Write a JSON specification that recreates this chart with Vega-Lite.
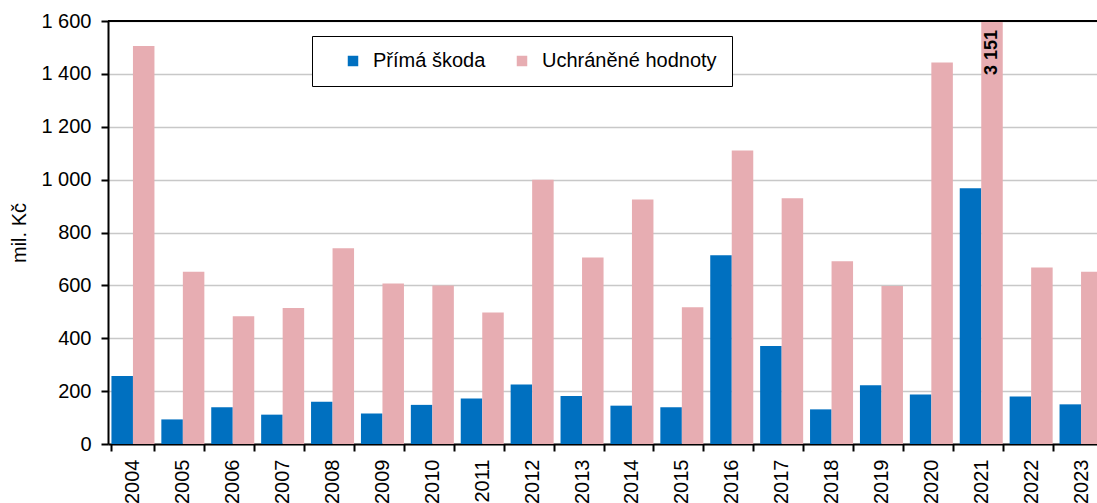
{
  "$schema": "https://vega.github.io/schema/vega-lite/v6.json",
  "autosize": {"type": "none"},
  "padding": {"left": 108, "top": 21, "right": -9, "bottom": 59},
  "width": 998,
  "height": 423,
  "config": {
    "font": "Liberation Sans",
    "view": {"stroke": null}
  },
  "data": {
    "values": [
      {"year": "2004", "series": "Přímá škoda", "value": 257},
      {"year": "2004", "series": "Uchráněné hodnoty", "value": 1505},
      {"year": "2005", "series": "Přímá škoda", "value": 93},
      {"year": "2005", "series": "Uchráněné hodnoty", "value": 652},
      {"year": "2006", "series": "Přímá škoda", "value": 139},
      {"year": "2006", "series": "Uchráněné hodnoty", "value": 483},
      {"year": "2007", "series": "Přímá škoda", "value": 111},
      {"year": "2007", "series": "Uchráněné hodnoty", "value": 514},
      {"year": "2008", "series": "Přímá škoda", "value": 160},
      {"year": "2008", "series": "Uchráněné hodnoty", "value": 740},
      {"year": "2009", "series": "Přímá škoda", "value": 115},
      {"year": "2009", "series": "Uchráněné hodnoty", "value": 607},
      {"year": "2010", "series": "Přímá škoda", "value": 148},
      {"year": "2010", "series": "Uchráněné hodnoty", "value": 600},
      {"year": "2011", "series": "Přímá škoda", "value": 172},
      {"year": "2011", "series": "Uchráněné hodnoty", "value": 497},
      {"year": "2012", "series": "Přímá škoda", "value": 225},
      {"year": "2012", "series": "Uchráněné hodnoty", "value": 1000},
      {"year": "2013", "series": "Přímá škoda", "value": 182},
      {"year": "2013", "series": "Uchráněné hodnoty", "value": 705},
      {"year": "2014", "series": "Přímá škoda", "value": 145},
      {"year": "2014", "series": "Uchráněné hodnoty", "value": 925},
      {"year": "2015", "series": "Přímá škoda", "value": 139},
      {"year": "2015", "series": "Uchráněné hodnoty", "value": 517},
      {"year": "2016", "series": "Přímá škoda", "value": 714},
      {"year": "2016", "series": "Uchráněné hodnoty", "value": 1110},
      {"year": "2017", "series": "Přímá škoda", "value": 371},
      {"year": "2017", "series": "Uchráněné hodnoty", "value": 930},
      {"year": "2018", "series": "Přímá škoda", "value": 131},
      {"year": "2018", "series": "Uchráněné hodnoty", "value": 691},
      {"year": "2019", "series": "Přímá škoda", "value": 222},
      {"year": "2019", "series": "Uchráněné hodnoty", "value": 598},
      {"year": "2020", "series": "Přímá škoda", "value": 187},
      {"year": "2020", "series": "Uchráněné hodnoty", "value": 1443},
      {"year": "2021", "series": "Přímá škoda", "value": 967},
      {"year": "2021", "series": "Uchráněné hodnoty", "value": 3151},
      {"year": "2022", "series": "Přímá škoda", "value": 180},
      {"year": "2022", "series": "Uchráněné hodnoty", "value": 668},
      {"year": "2023", "series": "Přímá škoda", "value": 150},
      {"year": "2023", "series": "Uchráněné hodnoty", "value": 652}
    ]
  },
  "layer": [
    {
      "mark": {"type": "bar"},
      "encoding": {
        "x": {
          "field": "year", "type": "nominal", "title": null,
          "scale": {"paddingInner": 0.138, "paddingOuter": 0.069},
          "axis": {
            "labelAngle": 270, "labelAlign": "right", "labelBaseline": "middle",
            "labelFontSize": 20, "labelColor": "black", "labelPadding": 8,
            "tickBand": "extent", "tickSize": 7, "tickColor": "black", "tickWidth": 2,
            "domainColor": "black", "domainWidth": 2, "grid": false
          }
        },
        "xOffset": {"field": "series", "type": "nominal", "sort": ["Přímá škoda", "Uchráněné hodnoty"], "scale": {"paddingInner": 0, "paddingOuter": 0}},
        "y": {
          "field": "value", "type": "quantitative", "title": "mil. Kč",
          "scale": {"domain": [0, 1600], "clamp": true, "nice": false},
          "axis": {
            "values": [0, 200, 400, 600, 800, 1000, 1200, 1400, 1600],
            "labelExpr": "replace(format(datum.value, ','), ',', ' ')",
            "labelFontSize": 20, "labelColor": "black", "labelPadding": 10,
            "tickSize": 7, "tickColor": "black", "tickWidth": 2,
            "domainColor": "black", "domainWidth": 2,
            "gridColor": "#c8c8c8", "gridWidth": 1.5,
            "titleFontSize": 20, "titleFontWeight": "normal", "titleColor": "black", "titlePadding": 11
          }
        },
        "color": {
          "field": "series", "type": "nominal",
          "scale": {"domain": ["Přímá škoda", "Uchráněné hodnoty"], "range": ["#0070c0", "#e7adb2"]},
          "legend": {
            "title": null, "orient": "none", "direction": "horizontal",
            "legendX": 204, "legendY": 15,
            "strokeColor": "black", "fillColor": "white", "padding": 15,
            "symbolType": "square", "symbolSize": 110, "symbolStrokeWidth": 0,
            "symbolOffset": 16, "columnPadding": 10,
            "labelFontSize": 20, "labelColor": "black", "labelOffset": 10, "labelLimit": 400
          }
        }
      }
    },
    {
      "transform": [
        {"filter": "datum.value > 1600"},
        {"calculate": "replace(format(datum.value, ','), ',', ' ')", "as": "label"}
      ],
      "mark": {"type": "text", "angle": 270, "align": "right", "baseline": "middle", "dx": -9, "fontSize": 18, "fontWeight": "bold", "color": "black"},
      "encoding": {
        "x": {"field": "year", "type": "nominal"},
        "xOffset": {"field": "series", "type": "nominal", "sort": ["Přímá škoda", "Uchráněné hodnoty"]},
        "y": {"field": "value", "type": "quantitative"},
        "text": {"field": "label", "type": "nominal"}
      }
    },
    {
      "mark": {"type": "rule", "color": "black", "strokeWidth": 2},
      "encoding": {"y": {"datum": 1600}}
    }
  ]
}
